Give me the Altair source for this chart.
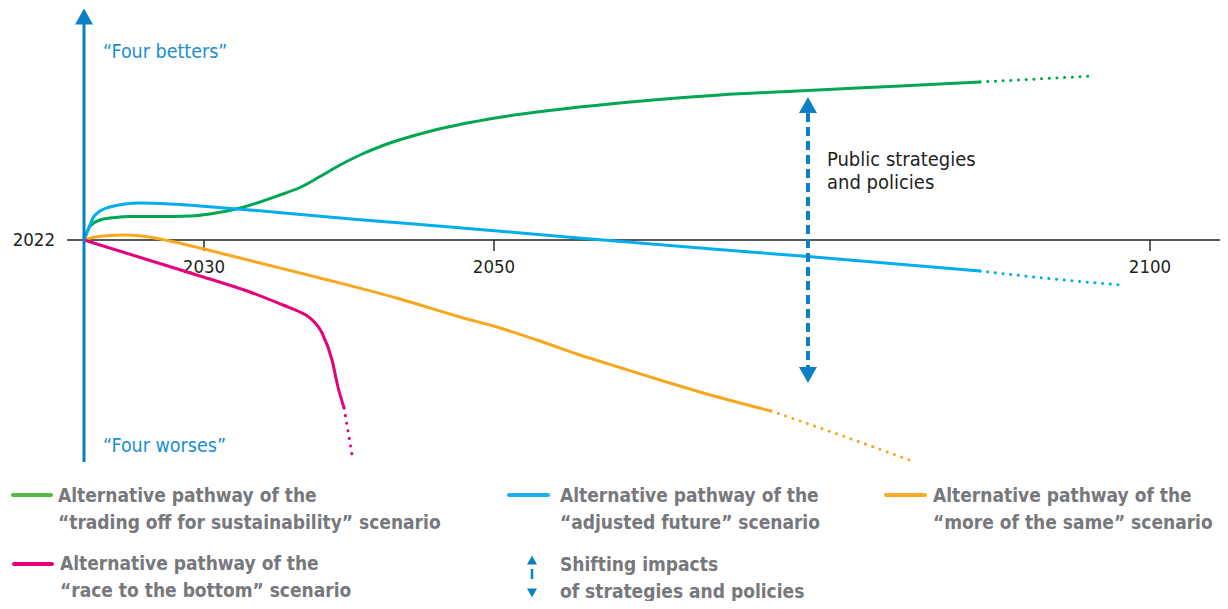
import altair as alt
import pandas as pd

FONT = "'Liberation Sans Narrow', 'DejaVu Sans Condensed', sans-serif"

# ---------------- data ----------------
series_names = ["trading off for sustainability", "adjusted future", "more of the same", "race to the bottom"]
series_colors = ["#00a651", "#00aeef", "#f8a61c", "#e6007e"]
legend_colors = ["#55b848", "#1ab0ea", "#f9ac2a", "#e6007e"]

# "trading off for sustainability" (green)
green_years = [2022, 2022.4, 2023.07, 2024.07, 2025.07, 2027.07, 2029.07, 2030.41, 2032.48, 2035.24,
               2036.62, 2038.0, 2039.38, 2040.76, 2042.34, 2045.79, 2050.46, 2058.08, 2067.23, 2073.93,
               2080.95, 2087.04]
green_vals = [0, 7, 10, 11.25, 11.75, 11.75, 12, 13, 16, 22.5,
              26.25, 31.75, 37.5, 42.5, 47.25, 54.75, 61.35, 67.5, 72.5, 74.75,
              77, 79]
green_dot_years = [2087.04, 2091.39, 2095.73]
green_dot_vals = [79, 80.5, 82]

# "adjusted future" (blue)
blue_years = [2022, 2022.27, 2022.6, 2023.07, 2023.73, 2024.73, 2025.73, 2027.73, 2029.73, 2033.17,
              2040.55, 2046.97, 2054.27, 2065.70, 2073.93, 2087.04]
blue_vals = [0, 5, 11, 14.5, 16.5, 18, 18.5, 18, 17, 15,
             10.25, 6.5, 2.25, -4, -8.25, -15.5]
blue_dot_years = [2087.04, 2092.6, 2097.8]
blue_dot_vals = [-15.5, -19.5, -22.5]

# "more of the same" (orange)
orange_years = [2022, 2022.73, 2023.73, 2024.73, 2026.07, 2027.73, 2030, 2033.86, 2038.0, 2043.52,
                2047.66, 2050.46, 2053.51, 2056.55, 2059.6, 2062.65, 2065.70, 2071.11]
orange_vals = [0, 1.5, 2.25, 2.5, 1.75, -0.5, -4.5, -11.5, -19, -29.5,
               -38.5, -44, -50.5, -57.5, -63.75, -70, -76, -85.5]
orange_dot_years = [2071.11, 2076.37, 2082.09]
orange_dot_vals = [-85.5, -97.5, -111]

# "race to the bottom" (magenta)
magenta_years = [2022, 2026.4, 2029.73, 2033.17, 2035.45, 2036.62, 2037.31, 2038.14, 2038.83, 2039.24, 2039.66]
magenta_vals = [0, -10.25, -18, -26, -32.5, -36, -39, -46.5, -60, -73.5, -84]
magenta_dot_years = [2039.66, 2040.21]
magenta_dot_vals = [-84, -107.5]

tick_years = [2030, 2050, 2100]
start_year = 2022
axis_top, axis_bottom = 108, -111
policy_year = 2073.93
policy_span = 63.5
policy_text = ["Public strategies", "and policies"]
policy_text_vals = [40, 28.5]
pole_labels = ["\u201cFour betters\u201d", "\u201cFour worses\u201d"]
pole_vals = [94, -103]

legend_labels = [
    ["Alternative pathway of the", "\u201ctrading off for sustainability\u201d scenario"],
    ["Alternative pathway of the", "\u201cadjusted future\u201d scenario"],
    ["Alternative pathway of the", "\u201cmore of the same\u201d scenario"],
    ["Alternative pathway of the", "\u201crace to the bottom\u201d scenario"],
    ["Shifting impacts", "of strategies and policies"],
]

# ---------------- build table ----------------
rows = []
def add(name, style, years, vals):
    for yr, v in zip(years, vals):
        rows.append({"series": name, "style": style, "year": yr, "value": v})

add(series_names[0], "solid", green_years, green_vals)
add(series_names[0], "dotted", green_dot_years, green_dot_vals)
add(series_names[1], "solid", blue_years, blue_vals)
add(series_names[1], "dotted", blue_dot_years, blue_dot_vals)
add(series_names[2], "solid", orange_years, orange_vals)
add(series_names[2], "dotted", orange_dot_years, orange_dot_vals)
add(series_names[3], "solid", magenta_years, magenta_vals)
add(series_names[3], "dotted", magenta_dot_years, magenta_dot_vals)
df = pd.DataFrame(rows)

W, H = 1212, 593
xscale = alt.Scale(domain=[2022, 2030, 2050, 2100], range=[76, 196, 486, 1142], nice=False, zero=False)
yscale = alt.Scale(domain=[-180.5, 116], range=[H, 0], nice=False, zero=False)

X = alt.X("year:Q", scale=xscale, axis=None)
Y = alt.Y("value:Q", scale=yscale, axis=None)
C = alt.Color("series:N", scale=alt.Scale(domain=series_names, range=series_colors), legend=None)

AXIS_BLUE = "#0a80c6"
TXT = "#231f20"
GREY = "#77787b"
UP = "M0,-0.89L1,0.89L-1,0.89Z"
DOWN = "M0,0.89L1,-0.89L-1,-0.89Z"

layers = []

# horizontal time axis
layers.append(
    alt.Chart(pd.DataFrame({"value": [0]})).mark_rule(color=TXT, strokeWidth=1.4)
    .encode(x=alt.value(59), x2=alt.value(1212), y=Y)
)
ticks_df = pd.DataFrame({"year": tick_years, "label": [str(t) for t in tick_years], "value": [0] * len(tick_years)})
layers.append(
    alt.Chart(ticks_df).mark_rule(color=TXT, strokeWidth=1.4)
    .encode(x=X, y=Y, y2=alt.Y2Datum(-5.5))
)
layers.append(
    alt.Chart(ticks_df).mark_text(font=FONT, fontSize=18.5, color=TXT, dy=27, baseline="middle", align="center")
    .encode(x=X, y=Y, text="label:N")
)
start_df = pd.DataFrame({"year": [start_year], "value": [0], "label": [str(start_year)]})
layers.append(
    alt.Chart(start_df).mark_text(font=FONT, fontSize=18.5, color=TXT, dx=-29, baseline="middle", align="right")
    .encode(x=X, y=Y, text="label:N")
)

# scenario lines
layers.append(
    alt.Chart(df).transform_filter(alt.datum.style == "solid")
    .mark_line(strokeWidth=3, interpolate="monotone", strokeCap="round")
    .encode(x=X, y=Y, color=C, order="year:Q")
)
layers.append(
    alt.Chart(df).transform_filter(alt.datum.style == "dotted")
    .mark_line(strokeWidth=3, strokeDash=[0.1, 7.6], strokeCap="round", interpolate="monotone")
    .encode(x=X, y=Y, color=C, order="year:Q")
)

# vertical "well-being" axis arrow
vaxis_df = pd.DataFrame({"year": [start_year], "value": [axis_top], "value2": [axis_bottom]})
layers.append(
    alt.Chart(vaxis_df).mark_rule(color=AXIS_BLUE, strokeWidth=3)
    .encode(x=X, y=Y, y2="value2:Q")
)
layers.append(
    alt.Chart(pd.DataFrame({"year": [start_year], "value": [axis_top + 3.75]}))
    .mark_point(shape=UP, filled=True, size=324, color=AXIS_BLUE, opacity=1, strokeWidth=0)
    .encode(x=X, y=Y)
)
pole_df = pd.DataFrame({"year": [start_year] * 2, "value": pole_vals, "label": pole_labels})
layers.append(
    alt.Chart(pole_df).mark_text(font=FONT, fontSize=19.5, color="#1a8ed2", dx=19, align="left", baseline="middle")
    .encode(x=X, y=Y, text="label:N")
)

# dashed double arrow : public strategies and policies
pol_df = pd.DataFrame({"year": [policy_year], "value": [policy_span], "value2": [-policy_span]})
layers.append(
    alt.Chart(pol_df).mark_rule(color=AXIS_BLUE, strokeWidth=4, strokeDash=[9, 5])
    .encode(x=X, y=Y, y2="value2:Q")
)
layers.append(
    alt.Chart(pd.DataFrame({"year": [policy_year], "value": [policy_span + 4]}))
    .mark_point(shape=UP, filled=True, size=324, color=AXIS_BLUE, opacity=1, strokeWidth=0)
    .encode(x=X, y=Y)
)
layers.append(
    alt.Chart(pd.DataFrame({"year": [policy_year], "value": [-policy_span - 4]}))
    .mark_point(shape=DOWN, filled=True, size=324, color=AXIS_BLUE, opacity=1, strokeWidth=0)
    .encode(x=X, y=Y)
)
pt_df = pd.DataFrame({"year": [policy_year] * 2, "value": policy_text_vals, "label": policy_text})
layers.append(
    alt.Chart(pt_df).mark_text(font=FONT, fontSize=20, color=TXT, dx=19, align="left", baseline="middle")
    .encode(x=X, y=Y, text="label:N")
)

# ---------------- custom legend (pixel layout) ----------------
one = pd.DataFrame({"k": [0]})

def legend_line(x0, x1, y, color):
    return alt.Chart(one).mark_rule(color=color, strokeWidth=4, strokeCap="round").encode(
        x=alt.value(x0), x2=alt.value(x1), y=alt.value(y))

def legend_text(lines, x, y):
    out = []
    for i, t in enumerate(lines):
        out.append(
            alt.Chart(pd.DataFrame({"t": [t]})).mark_text(
                font=FONT, fontSize=19, fontWeight="bold", color=GREY, align="left", baseline="middle"
            ).encode(x=alt.value(x), y=alt.value(y + i * 26.5), text="t:N")
        )
    return out

layers.append(legend_line(5, 43, 487, legend_colors[0]))
layers += legend_text(legend_labels[0], 50, 488)
layers.append(legend_line(501, 540, 487, legend_colors[1]))
layers += legend_text(legend_labels[1], 552, 488)
layers.append(legend_line(878, 917, 487, legend_colors[2]))
layers += legend_text(legend_labels[2], 925, 488)
layers.append(legend_line(6, 44, 556, legend_colors[3]))
layers += legend_text(legend_labels[3], 52, 556)

# legend dashed arrow
layers.append(
    alt.Chart(one).mark_point(shape=UP, filled=True, size=100, color=AXIS_BLUE, opacity=1, strokeWidth=0)
    .encode(x=alt.value(524), y=alt.value(552))
)
layers.append(
    alt.Chart(one).mark_rule(color=AXIS_BLUE, strokeWidth=2.5)
    .encode(x=alt.value(524), y=alt.value(561), y2=alt.value(571))
)
layers.append(
    alt.Chart(one).mark_point(shape=DOWN, filled=True, size=100, color=AXIS_BLUE, opacity=1, strokeWidth=0)
    .encode(x=alt.value(524), y=alt.value(585))
)
layers += legend_text(legend_labels[4], 552, 557)

chart = alt.layer(*layers).properties(
    width=W, height=H, padding=0, autosize="none", background="white"
).configure_view(strokeWidth=0)

chart.save("out.html", embed_options={"renderer": "svg", "actions": False})
